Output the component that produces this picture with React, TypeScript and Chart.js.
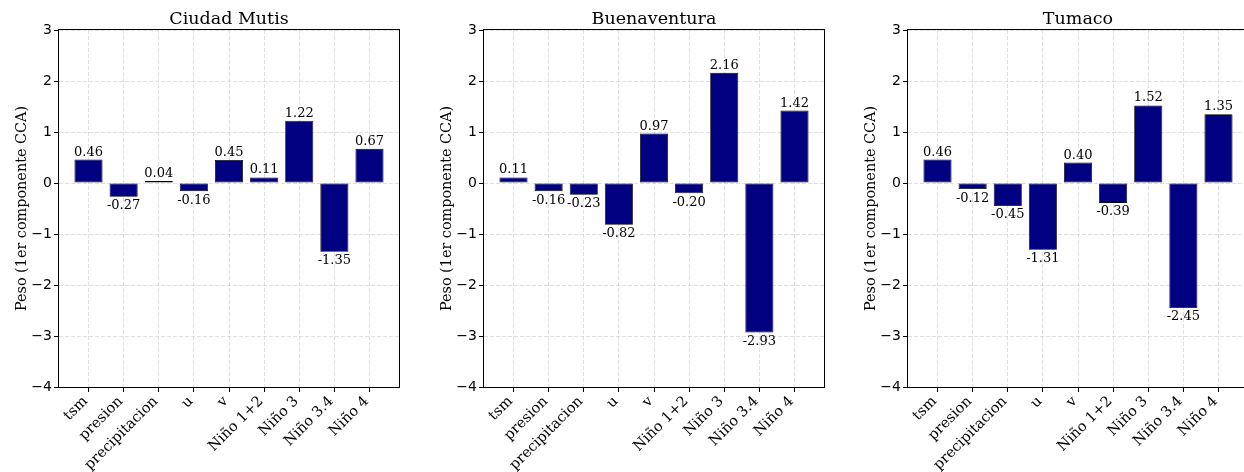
import React, { useEffect, useRef } from 'react';
import { Chart, registerables } from 'chart.js';

Chart.register(...registerables);

// ---- data ----
const categories = ['tsm', 'presion', 'precipitacion', 'u', 'v', 'Niño 1+2', 'Niño 3', 'Niño 3.4', 'Niño 4'];
const ciudadMutis = [0.46, -0.27, 0.04, -0.16, 0.45, 0.11, 1.22, -1.35, 0.67];
const buenaventura = [0.11, -0.16, -0.23, -0.82, 0.97, -0.2, 2.16, -2.93, 1.42];
const tumaco = [0.46, -0.12, -0.45, -1.31, 0.4, -0.39, 1.52, -2.45, 1.35];
const panelTitles = ['Ciudad Mutis', 'Buenaventura', 'Tumaco'];
const yTicks = [-4, -3, -2, -1, 0, 1, 2, 3];
const yLabel = 'Peso (1er componente CCA)';

const panelSeries = [ciudadMutis, buenaventura, tumaco];

// ---- layout / style ----
const CANVAS_W = 424;
const CANVAS_H = 472;
const panelLefts = [0, 425, 849];
const SERIF = 'DejaVu Serif';
const SANS = 'DejaVu Sans';
const GRID_COLOR = 'rgba(176,176,176,0.5)';

function makeOverlay(title: string) {
  return {
    id: 'overlay',
    afterDraw(chart: any) {
      const { ctx, chartArea: a } = chart;
      ctx.save();
      // frame
      ctx.strokeStyle = '#000';
      ctx.lineWidth = 1;
      ctx.strokeRect(Math.round(a.left) - 0.5, Math.round(a.top) - 0.5, Math.round(a.right - a.left) + 1, Math.round(a.bottom - a.top) + 1);
      // title
      ctx.fillStyle = '#000';
      ctx.font = `17.5px "${SERIF}"`;
      ctx.textAlign = 'center';
      ctx.textBaseline = 'alphabetic';
      ctx.fillText(title, (a.left + a.right) / 2, a.top - 6);
      // y label
      ctx.save();
      ctx.translate(a.left - 37, (a.top + a.bottom) / 2);
      ctx.rotate(-Math.PI / 2);
      ctx.font = `14.4px "${SERIF}"`;
      ctx.textAlign = 'center';
      ctx.textBaseline = 'middle';
      ctx.fillText(yLabel, 0, 0);
      ctx.restore();
      // bar labels
      const meta = chart.getDatasetMeta(0);
      const data = chart.data.datasets[0].data as any[];
      ctx.font = `13px "${SERIF}"`;
      ctx.textAlign = 'center';
      ctx.textBaseline = 'alphabetic';
      meta.data.forEach((el: any, i: number) => {
        const v = data[i].y as number;
        const txt = v.toFixed(2);
        if (v >= 0) ctx.fillText(txt, el.x, el.y - 4);
        else ctx.fillText(txt, el.x, el.y + 12.5);
      });
      ctx.restore();
    },
  };
}

function Panel({ title, values, left }: { title: string; values: number[]; left: number }) {
  const ref = useRef<HTMLCanvasElement>(null);
  useEffect(() => {
    if (!ref.current) return;
    const chart = new Chart(ref.current, {
      type: 'bar',
      data: {
        datasets: [
          {
            data: values.map((v, i) => ({ x: i, y: v })),
            backgroundColor: '#000080',
            borderColor: '#000000',
            borderWidth: 0.8,
            borderSkipped: false,
            barPercentage: 0.8,
            categoryPercentage: 1,
          } as any,
        ],
      },
      options: {
        animation: false,
        responsive: false,
        devicePixelRatio: 1,
        layout: { padding: { left: 0, right: CANVAS_W - 399, top: 30, bottom: 0 } },
        plugins: { legend: { display: false }, tooltip: { enabled: false }, title: { display: false } },
        scales: {
          x: {
            type: 'linear',
            min: -0.84,
            max: categories.length - 1 + 0.84,
            offset: false,
            z: 1,
            afterBuildTicks: (s: any) => {
              s.ticks = categories.map((_, i) => ({ value: i }));
            },
            afterFit: (s: any) => {
              s.height = 85;
            },
            grid: {
              offset: false,
              color: GRID_COLOR,
              lineWidth: 0.8,
              tickColor: '#000',
              tickLength: 5,
              tickWidth: 1,
              tickBorderDash: [],
            },
            border: { display: false, dash: [4, 2] },
            ticks: {
              autoSkip: false,
              maxRotation: 45,
              minRotation: 45,
              padding: 1,
              labelOffset: -3,
              color: '#000',
              font: { family: SERIF, size: 14.5 },
              callback: (v: any) => categories[v as number] ?? '',
            },
          } as any,
          y: {
            min: -4,
            max: 3,
            z: 1,
            afterBuildTicks: (s: any) => {
              s.ticks = yTicks.map((v) => ({ value: v }));
            },
            afterFit: (s: any) => {
              s.width = 59;
            },
            grid: {
              color: GRID_COLOR,
              lineWidth: 0.8,
              tickColor: '#000',
              tickLength: 5,
              tickWidth: 1,
              tickBorderDash: [],
            },
            border: { display: false, dash: [4, 2] },
            ticks: {
              padding: 2,
              color: '#000',
              font: { family: SANS, size: 14 },
              callback: (v: any) => (v < 0 ? '\u2212' + Math.abs(v) : String(v)),
            },
          } as any,
        },
      },
      plugins: [makeOverlay(title)],
    });
    return () => chart.destroy();
  }, []);
  return (
    <canvas
      ref={ref}
      width={CANVAS_W}
      height={CANVAS_H}
      style={{ position: 'absolute', left, top: 0, width: CANVAS_W, height: CANVAS_H }}
    />
  );
}

export default function App() {
  return (
    <div
      style={{
        position: 'fixed',
        left: 0,
        top: 0,
        width: 1244,
        height: 472,
        overflow: 'hidden',
        background: '#ffffff',
      }}
    >
      {panelTitles.map((t, i) => (
        <Panel key={t} title={t} values={panelSeries[i]} left={panelLefts[i]} />
      ))}
    </div>
  );
}
